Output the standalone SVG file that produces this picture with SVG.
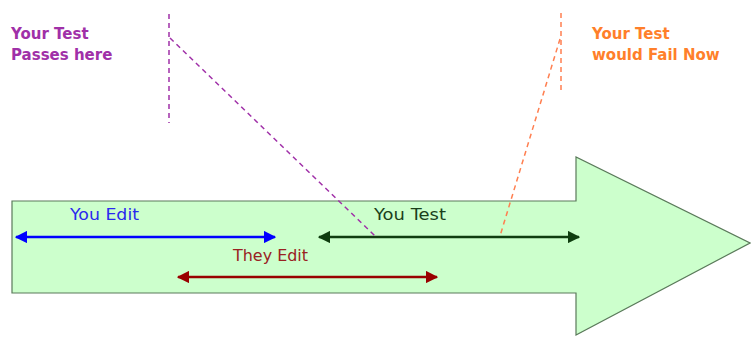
<svg xmlns="http://www.w3.org/2000/svg" width="751" height="337" viewBox="0 0 751 337">
<style>
.lbl{font-family:"DejaVu Sans",Verdana,sans-serif;font-size:15px}
.note{font-family:"DejaVu Sans",Verdana,sans-serif;font-size:15px;font-weight:bold}
.dash{fill:none;stroke-width:1.5;stroke-dasharray:5,4}
</style>
<defs>
<marker id="hb" viewBox="0 0 10 10" refX="9" refY="5" markerWidth="5" markerHeight="5" orient="auto-start-reverse" markerUnits="strokeWidth"><path d="M0,0 L10,5 L0,10 z" fill="#0000ff"/></marker>
<marker id="hg" viewBox="0 0 10 10" refX="9" refY="5" markerWidth="5" markerHeight="5" orient="auto-start-reverse" markerUnits="strokeWidth"><path d="M0,0 L10,5 L0,10 z" fill="#0f3d0f"/></marker>
<marker id="hr" viewBox="0 0 10 10" refX="9" refY="5" markerWidth="5" markerHeight="5" orient="auto-start-reverse" markerUnits="strokeWidth"><path d="M0,0 L10,5 L0,10 z" fill="#990000"/></marker>
</defs>
<rect width="751" height="337" fill="#ffffff"/>
<g id="timeline">
<path d="M12,201 L576,201 L576,157 L750,243 L576,335 L576,293 L12,293 Z" fill="#ccffcc" stroke="#5a7a5a" stroke-width="1.2"/>
</g>
<g id="connectors">
<line x1="16" y1="237" x2="275" y2="237" stroke="#0000ff" stroke-width="2.5" marker-start="url(#hb)" marker-end="url(#hb)"/>
<line x1="319" y1="237" x2="579" y2="237" stroke="#0f3d0f" stroke-width="2.5" marker-start="url(#hg)" marker-end="url(#hg)"/>
<line x1="178" y1="277" x2="437" y2="277" stroke="#990000" stroke-width="2.5" marker-start="url(#hr)" marker-end="url(#hr)"/>
<line class="dash" x1="169" y1="14" x2="169" y2="123" stroke="#a030a8"/>
<line class="dash" x1="170" y1="38" x2="375" y2="236" stroke="#a030a8"/>
<line class="dash" x1="561" y1="13" x2="561" y2="90" stroke="#ff7f50"/>
<line class="dash" x1="560" y1="39" x2="500" y2="236" stroke="#ff7f50"/>
</g>
<g id="you-edit"><text class="lbl" x="70" y="220" fill="#2a2aee" textLength="69" lengthAdjust="spacingAndGlyphs">You Edit</text></g>
<g id="you-test"><text class="lbl" x="374" y="220" fill="#1a401a" textLength="72" lengthAdjust="spacingAndGlyphs">You Test</text></g>
<g id="they-edit"><text class="lbl" x="233" y="261" fill="#992222" textLength="75" lengthAdjust="spacingAndGlyphs">They Edit</text></g>
<g id="passes-note"><text class="note" fill="#a030a8"><tspan x="11" y="39">Your Test</tspan><tspan x="11" y="60">Passes here</tspan></text></g>
<g id="fail-note"><text class="note" fill="#ff7f2a"><tspan x="592" y="39">Your Test</tspan><tspan x="592" y="60">would Fail Now</tspan></text></g>
</svg>
